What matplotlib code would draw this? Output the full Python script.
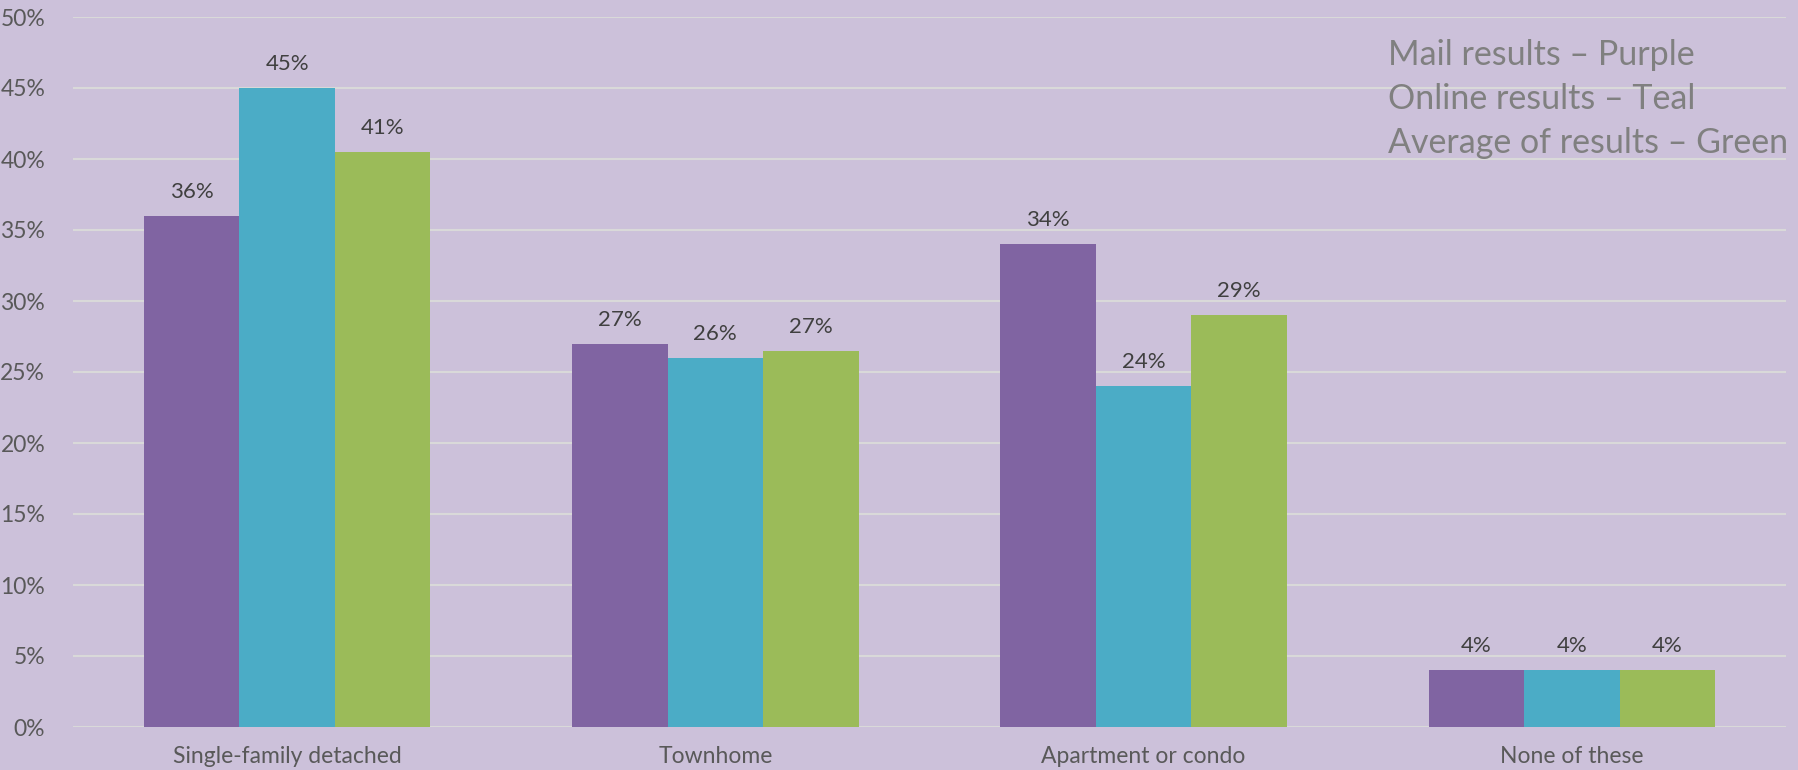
import matplotlib.pyplot as plt
import numpy as np

# ── Data ──────────────────────────────────────────────────────────────────────
categories = ["Single-family detached", "Townhome", "Apartment or condo", "None of these"]
mail = [36, 27, 34, 4]
online = [45, 26, 24, 4]
average = [40.5, 26.5, 29, 4]
y_ticks = [0, 5, 10, 15, 20, 25, 30, 35, 40, 45, 50]
legend_lines = ["Mail results \u2013 Purple", "Online results \u2013 Teal", "Average of results \u2013 Green"]

BG = "#CCC1DA"
COLORS = ["#8064A2", "#4BACC6", "#9BBB59"]

plt.rcParams["font.family"] = ["Lato", "DejaVu Sans"]

fig = plt.figure(figsize=(17.99, 7.7), dpi=100, facecolor=BG)
ax = fig.add_axes([73 / 1799, 1 - 727 / 770, (1786 - 73) / 1799, (727 - 17) / 770])
ax.set_facecolor(BG)

x = np.arange(len(categories))
w = 0.223
for i, (vals, col) in enumerate(zip([mail, online, average], COLORS)):
    bars = ax.bar(x + (i - 1) * w, vals, width=w, color=col, zorder=3)
    for b, v in zip(bars, vals):
        ax.annotate(f"{int(np.floor(v + 0.5))}%", (b.get_x() + b.get_width() / 2, v),
                    xytext=(0, 10), textcoords="offset points",
                    ha="center", va="bottom", fontsize=16, color="#404040")

ax.set_xlim(-0.5, len(categories) - 0.5)
ax.set_ylim(0, 50)
ax.set_yticks(y_ticks)
ax.set_yticklabels([f"{t}%" for t in y_ticks])
ax.set_xticks(x)
ax.set_xticklabels(categories)
ax.tick_params(axis="both", length=0, labelsize=16.5, colors="#595959")
ax.tick_params(axis="y", pad=20)
ax.tick_params(axis="x", pad=14)
ax.grid(axis="y", color="#D9D9D9", linewidth=1.5, zorder=0)
for s in ax.spines.values():
    s.set_visible(False)

# ── Text legend (top right) ───────────────────────────────────────────────────
for k, line in enumerate(legend_lines):
    fig.text(1388 / 1799, 1 - (65 + 44 * k) / 770, line, fontsize=24.5,
             color="#808080", ha="left", va="baseline")

plt.savefig("out.png", dpi=100, facecolor=BG)
plt.close()
